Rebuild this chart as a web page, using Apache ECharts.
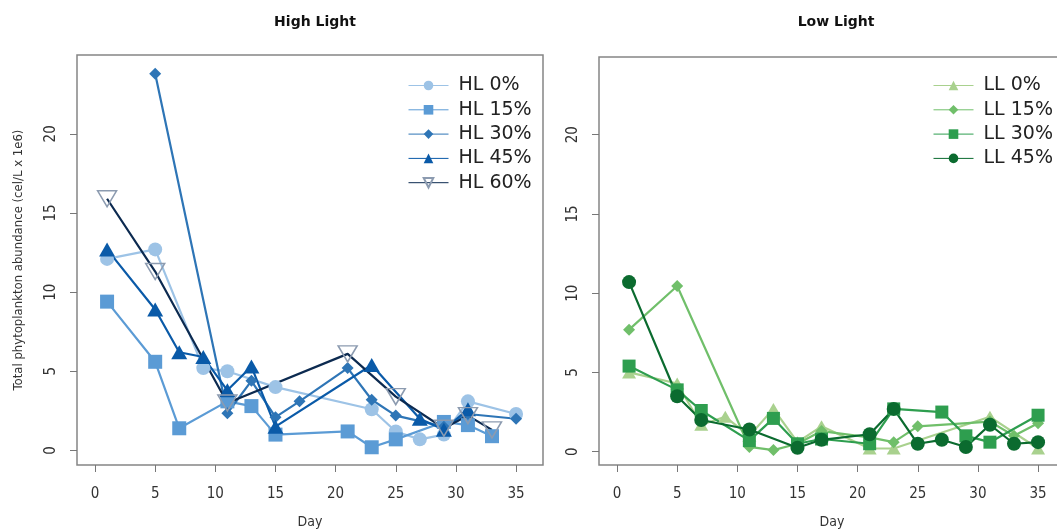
<!DOCTYPE html>
<html><head><meta charset="utf-8">
<script src="https://cdn.jsdelivr.net/npm/echarts@6/dist/echarts.min.js"></script>
<style>html,body{margin:0;padding:0;background:#fff}#c{width:1057px;height:532px}</style>
</head><body><div id="c"></div>
<script>
// ---- data (days and values, cells/L x 1e6) ----
const xTicks = [0, 5, 10, 15, 20, 25, 30, 35];
const yTicks = [0, 5, 10, 15, 20];

const hlNames = ['HL 0%', 'HL 15%', 'HL 30%', 'HL 45%', 'HL 60%'];
const hl0Days = [1, 5, 9, 11, 15, 23, 25, 27, 29, 31, 35];
const hl0Vals = [12.1, 12.7, 5.2, 5.0, 4.0, 2.6, 1.2, 0.7, 1.0, 3.1, 2.3];
const hl15Days = [1, 5, 7, 11, 13, 15, 21, 23, 25, 29, 31, 33];
const hl15Vals = [9.4, 5.6, 1.4, 3.1, 2.8, 1.0, 1.2, 0.2, 0.7, 1.8, 1.6, 0.9];
const hl30Days = [5, 11, 13, 15, 17, 21, 23, 25, 29, 31, 35];
const hl30Vals = [23.8, 2.35, 4.4, 2.1, 3.1, 5.2, 3.2, 2.2, 1.5, 2.3, 2.0];
const hl45Days = [1, 5, 7, 9, 11, 13, 15, 23, 27, 29, 31];
const hl45Vals = [12.7, 8.9, 6.2, 5.9, 3.8, 5.3, 1.5, 5.4, 2.0, 1.3, 2.6];
const hl60Days = [1, 5, 11, 21, 25, 29, 31, 33];
const hl60Vals = [15.9, 11.3, 3.0, 6.1, 3.4, 1.4, 2.2, 1.3];

const llNames = ['LL 0%', 'LL 15%', 'LL 30%', 'LL 45%'];
const ll0Days = [1, 5, 7, 9, 11, 13, 15, 17, 21, 23, 31, 35];
const ll0Vals = [5.0, 4.3, 1.7, 2.2, 1.0, 2.7, 0.6, 1.6, 0.2, 0.2, 2.2, 0.2];
const ll15Days = [1, 5, 11, 13, 15, 17, 21, 23, 25, 31, 33, 35];
const ll15Vals = [7.7, 10.45, 0.3, 0.1, 0.5, 1.3, 0.9, 0.6, 1.6, 1.9, 1.0, 1.8];
const ll30Days = [1, 5, 7, 11, 13, 15, 17, 21, 23, 27, 29, 31, 35];
const ll30Vals = [5.4, 3.9, 2.6, 0.7, 2.1, 0.5, 0.8, 0.5, 2.7, 2.5, 1.0, 0.6, 2.3];
const ll45Days = [1, 5, 7, 11, 15, 17, 21, 23, 25, 27, 29, 31, 33, 35];
const ll45Vals = [10.7, 3.5, 2.0, 1.4, 0.25, 0.75, 1.1, 2.7, 0.5, 0.75, 0.3, 1.7, 0.5, 0.6];

// ---- styling ----
const narrow = "'Liberation Sans Narrow','DejaVu Sans Condensed',sans-serif";
const pair = (d, v) => d.map((x, i) => [x, v[i]]);

function mkSeries(name, days, vals, idx, color, symbol, size, extra) {
  const s = {
    name, type: 'line', xAxisIndex: idx, yAxisIndex: idx,
    data: pair(days, vals), symbol, symbolSize: size,
    lineStyle: { color: color, width: 2.2 },
    itemStyle: { color: color },
    emphasis: { disabled: true }, animation: false
  };
  return Object.assign(s, extra || {});
}

const series = [
  mkSeries(hlNames[0], hl0Days, hl0Vals, 0, '#9dc3e6', 'circle', 14),
  mkSeries(hlNames[1], hl15Days, hl15Vals, 0, '#5b9bd5', 'rect', 14),
  mkSeries(hlNames[2], hl30Days, hl30Vals, 0, '#2e75b6', 'diamond', [12, 12]),
  mkSeries(hlNames[3], hl45Days, hl45Vals, 0, '#0a5aa8', 'triangle', [16, 14]),
  mkSeries(hlNames[4], hl60Days, hl60Vals, 0, '#0c2a50', 'triangle', [19, 16], {
    symbolRotate: 180,
    itemStyle: { color: 'rgba(255,255,255,0)', borderColor: '#8c9bb0', borderWidth: 1.5 }
  }),
  mkSeries(llNames[0], ll0Days, ll0Vals, 1, '#a9d18e', 'triangle', [14, 12]),
  mkSeries(llNames[1], ll15Days, ll15Vals, 1, '#70bf6a', 'diamond', [12, 12]),
  mkSeries(llNames[2], ll30Days, ll30Vals, 1, '#2e9e4f', 'rect', 13),
  mkSeries(llNames[3], ll45Days, ll45Vals, 1, '#0b6b2f', 'circle', 14)
];

function xAx(idx) {
  return {
    type: 'value', gridIndex: idx, min: -1.5, max: 37.24,
    name: 'Day', nameLocation: 'middle', nameGap: 50,
    nameTextStyle: { fontFamily: narrow, fontSize: 14, color: '#333' },
    axisLine: { show: false, onZero: false }, splitLine: { show: false },
    axisTick: { show: true, customValues: xTicks, length: 7, lineStyle: { color: '#777', width: 1 } },
    axisLabel: { customValues: xTicks, margin: 22, fontFamily: narrow, fontSize: 15, color: '#333' }
  };
}
function yAx(idx, min, max, withName) {
  const a = {
    type: 'value', gridIndex: idx, min: min, max: max,
    axisLine: { show: false, onZero: false }, splitLine: { show: false },
    axisTick: { show: true, customValues: yTicks, length: 7, lineStyle: { color: '#777', width: 1 } },
    axisLabel: { customValues: yTicks, rotate: 90, margin: 18, fontFamily: narrow, fontSize: 15, color: '#333' }
  };
  if (withName) {
    Object.assign(a, {
      name: 'Total phytoplankton abundance (cel/L x 1e6)', nameLocation: 'middle', nameGap: 52,
      nameTextStyle: { fontFamily: narrow, fontSize: 13, color: '#333' }
    });
  }
  return a;
}

const legendCommon = {
  orient: 'vertical', itemWidth: 40, itemHeight: 12, itemGap: 5.3,
  selectedMode: false,
  lineStyle: { width: 1 },
  textStyle: { fontFamily: "'DejaVu Sans',sans-serif", fontSize: 19, lineHeight: 19, color: '#222', padding: [0, 0, 0, 5] }
};

const option = {
  animation: false,
  backgroundColor: '#fff',
  title: [
    { text: 'High Light', left: 310, top: 10, textAlign: 'center',
      textStyle: { fontFamily: "'DejaVu Sans',sans-serif", fontWeight: 'bold', fontSize: 14, color: '#111' } },
    { text: 'Low Light', left: 831, top: 10, textAlign: 'center',
      textStyle: { fontFamily: "'DejaVu Sans',sans-serif", fontWeight: 'bold', fontSize: 14, color: '#111' } }
  ],
  grid: [
    { left: 77, top: 55, width: 466, height: 410, outerBoundsMode: 'none', containLabel: false,
      show: true, borderColor: '#858585', borderWidth: 1.5, backgroundColor: 'transparent' },
    { left: 599, top: 57, width: 466, height: 408, outerBoundsMode: 'none', containLabel: false,
      show: true, borderColor: '#858585', borderWidth: 1.5, backgroundColor: 'transparent' }
  ],
  xAxis: [xAx(0), xAx(1)],
  yAxis: [yAx(0, -0.92, 24.98, true), yAx(1, -0.84, 24.9, false)],
  legend: [
    Object.assign({ data: hlNames, left: 403, top: 71 }, legendCommon),
    Object.assign({ data: llNames, left: 928, top: 71 }, legendCommon)
  ],
  series: series
};

const chart = echarts.init(document.getElementById('c'), null, { renderer: 'canvas' });
chart.setOption(option);
</script></body></html>
